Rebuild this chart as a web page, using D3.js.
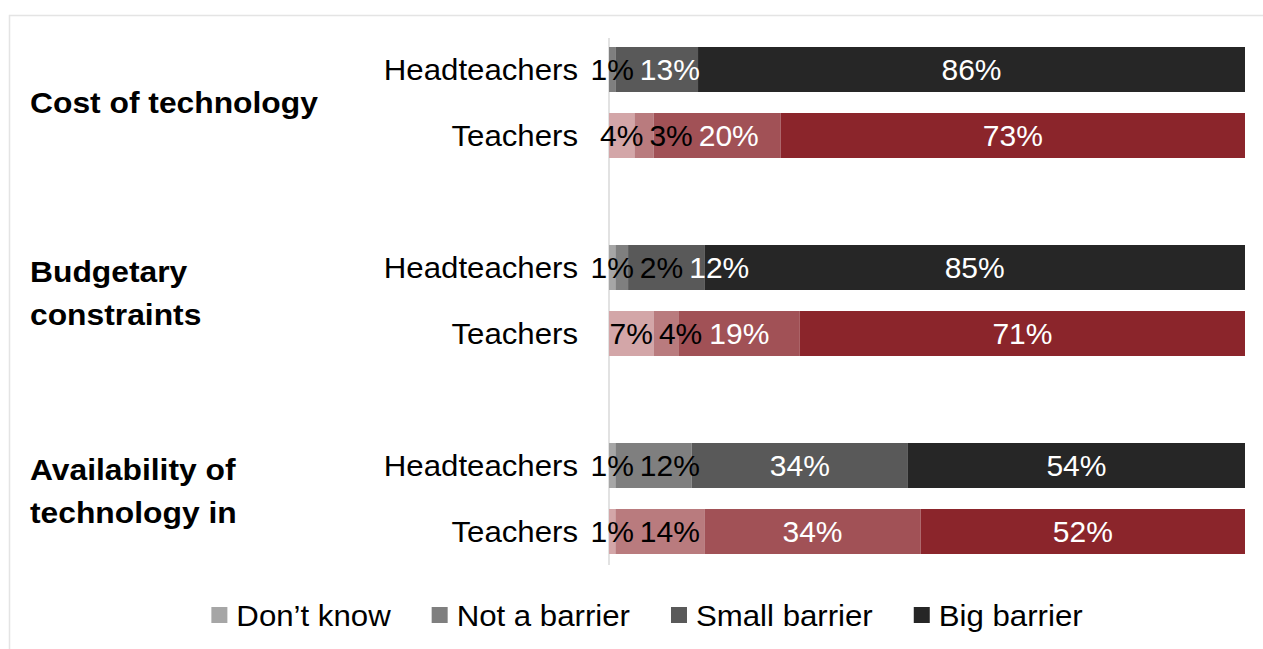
<!DOCTYPE html>
<html>
<head>
<meta charset="utf-8">
<script src="https://cdn.jsdelivr.net/npm/d3@7/dist/d3.min.js"></script>
<style>
  html, body { margin: 0; padding: 0; background: #fff; }
  svg { display: block; font-family: "Liberation Sans", Arial, sans-serif; }
</style>
</head>
<body>
<svg id="chart" width="1263" height="649"></svg>
<script>
// Barriers to using technology, by respondent type
const groups = ["Cost of technology", "Budgetary constraints", "Availability of technology in"];
const groupLines = [["Cost of technology"], ["Budgetary", "constraints"], ["Availability of", "technology in"]];
const respondents = ["Headteachers", "Teachers"];
const responses = ["Don\u2019t know", "Not a barrier", "Small barrier", "Big barrier"];

// percentages per group, in the order of `responses`
const headteacherValues = [
  [0, 1, 13, 86],
  [1, 2, 12, 85],
  [1, 12, 34, 54]
];
const teacherValues = [
  [4, 3, 20, 73],
  [7, 4, 19, 71],
  [1, 14, 34, 52]
];

const headteacherColors = ["#a6a6a6", "#7f7f7f", "#595959", "#262626"];
const teacherColors = ["#d3a6a8", "#b97b7e", "#a15156", "#8b252b"];
const labelColors = ["#000", "#000", "#fff", "#fff"];

const svg = d3.select("#chart");
const FONT = 30;
const STRETCH = 1.04;
const BOLD_STRETCH = 1.06;

// light frame
svg.append("path")
  .attr("d", "M9.5,649 L9.5,15.5 L1263,15.5")
  .attr("fill", "none").attr("stroke", "#e4e4e4").attr("stroke-width", 1.5);

const x = d3.scaleLinear().domain([0, 100]).range([609, 1245]);
const yGroup = d3.scaleBand().domain(groups).range([3.5, 597.5]);
const yResp = d3.scaleBand().domain(respondents).range([43.5, 154.5])
  .paddingInner(21 / 66).paddingOuter(0);

svg.append("defs").append("clipPath").attr("id", "plotClip")
  .append("rect").attr("x", x(0)).attr("y", 0)
  .attr("width", x(100) - x(0)).attr("height", 649);

// vertical axis line
svg.append("line")
  .attr("x1", x(0)).attr("x2", x(0)).attr("y1", 38).attr("y2", 565)
  .attr("stroke", "#d9d9d9").attr("stroke-width", 1.5);

function stretched(sel, tx, ty, k) {
  sel.attr("transform", `translate(${tx},${ty}) scale(${k || STRETCH},1)`);
  return sel;
}

const rows = [];
groups.forEach((g, gi) => {
  respondents.forEach((r, ri) => {
    const vals = ri === 0 ? headteacherValues[gi] : teacherValues[gi];
    const cols = ri === 0 ? headteacherColors : teacherColors;
    let acc = 0;
    const segs = vals.map((v, k) => {
      const s = { v, x0: acc, x1: acc + v, color: cols[k], labelColor: labelColors[k] };
      acc += v;
      return s;
    });
    rows.push({ g, r, gi, ri, y: yGroup(g) + yResp(r), segs });
  });
});

const barLayer = svg.append("g").attr("clip-path", "url(#plotClip)");
const labelLayer = svg.append("g");
const bh = yResp.bandwidth();

rows.forEach(row => {
  barLayer.selectAll(null).data(row.segs.filter(s => s.v > 0)).enter()
    .append("rect")
    .attr("x", s => x(s.x0))
    .attr("y", row.y)
    .attr("width", s => Math.max(0, x(s.x1) - x(s.x0)))
    .attr("height", bh)
    .attr("fill", s => s.color);

  // respondent label
  stretched(labelLayer.append("text"), 578, row.y + bh / 2 + 10.5)
    .attr("text-anchor", "end")
    .attr("font-size", FONT)
    .attr("fill", "#000")
    .text(row.r);

  // value labels, centred on segments, nudged right to avoid overlap
  let prevRight = -Infinity;
  row.segs.filter(s => s.v > 0).forEach(s => {
    const t = labelLayer.append("text")
      .attr("font-size", FONT)
      .attr("fill", s.labelColor)
      .attr("text-anchor", "middle")
      .text(s.v + "%");
    const w = t.node().getComputedTextLength();
    const segMid = (x(s.x0) + x(Math.min(s.x1, 100))) / 2;
    const cx = Math.max(segMid, prevRight + 6 + w / 2);
    prevRight = cx + w / 2;
    t.attr("x", cx).attr("y", row.y + bh / 2 + 10.5);
  });
});

// group labels
groups.forEach((g, gi) => {
  const lines = groupLines[gi];
  const mid = yGroup(g) + yGroup.bandwidth() / 2;
  const first = lines.length === 1 ? mid + 10 : mid - 19;
  lines.forEach((ln, li) => {
    stretched(svg.append("text"), 30, first + li * 43, BOLD_STRETCH)
      .attr("font-size", FONT)
      .attr("font-weight", "bold")
      .attr("fill", "#000")
      .text(ln);
  });
});

// legend
const legend = svg.append("g");
let lx = 0;
responses.forEach((name, i) => {
  const it = legend.append("g");
  it.append("rect").attr("x", 0).attr("y", -19).attr("width", 16).attr("height", 16)
    .attr("fill", headteacherColors[i]);
  const t = stretched(it.append("text"), 25, 0)
    .attr("font-size", FONT).attr("fill", "#000").text(name);
  const w = t.node().getComputedTextLength() * STRETCH + 25;
  it.attr("transform", `translate(${lx},626)`);
  lx += w + 41;
});
const total = lx - 41;
legend.attr("transform", `translate(${647 - total / 2},0)`);
</script>
</body>
</html>
